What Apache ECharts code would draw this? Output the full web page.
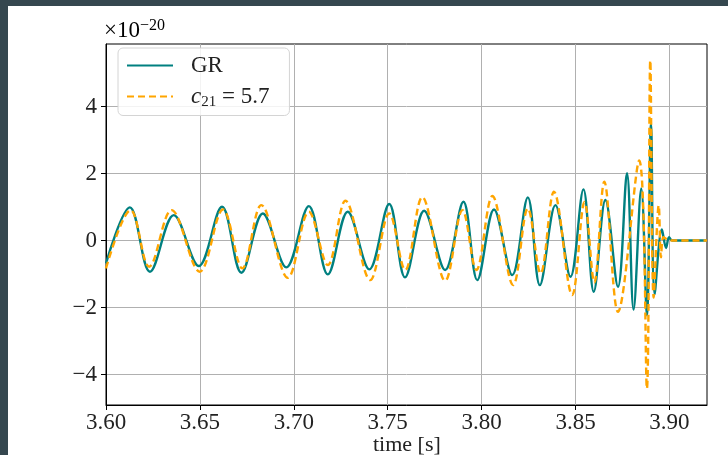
<!DOCTYPE html>
<html>
<head>
<meta charset="utf-8">
<script src="https://cdn.jsdelivr.net/npm/echarts@6/dist/echarts.min.js"></script>
<style>
html, body { margin: 0; padding: 0; width: 728px; height: 455px; overflow: hidden; background: #35474f; }
#main { position: absolute; left: 8px; top: 6px; width: 720px; height: 449px; background: #fff; }
</style>
</head>
<body>
<div id="main"></div>
<script>
// strain in units of 1e-20 at each peak and trough
var grTime = [
  3.6000, 3.6127, 3.6234, 3.6361, 3.6494, 3.6618, 3.6721, 3.6835, 3.6960, 3.7080,
  3.7181, 3.7287, 3.7402, 3.7508, 3.7592, 3.7694, 3.7806, 3.7903, 3.7977, 3.8066,
  3.8163, 3.8246, 3.8310, 3.8393, 3.8473, 3.8542, 3.8597, 3.8659, 3.8726, 3.8774,
  3.8809, 3.8850, 3.8880, 3.8902, 3.8921, 3.8960, 3.8982, 3.8998, 3.9015, 3.9200
];
var grStrain = [
  -0.68, 0.99, -0.93, 0.76, -0.76, 1.01, -0.96, 0.81, -0.80, 1.03,
  -1.01, 0.86, -0.86, 1.09, -1.10, 0.89, -0.88, 1.16, -1.18, 0.93,
  -1.03, 1.29, -1.33, 1.06, -1.08, 1.53, -1.53, 1.21, -1.38, 2.01,
  -2.06, 1.56, -2.23, 3.50, -1.60, 0.33, -0.22, 0.10, 0.00, 0.00
];
var c21Time = [
  3.6000, 3.6131, 3.6230, 3.6349, 3.6499, 3.6623, 3.6726, 3.6827, 3.6968, 3.7080,
  3.7181, 3.7275, 3.7407, 3.7508, 3.7593, 3.7684, 3.7806, 3.7898, 3.7972, 3.8057,
  3.8168, 3.8246, 3.8314, 3.8385, 3.8482, 3.8548, 3.8600, 3.8653, 3.8726, 3.8839,
  3.8880, 3.8898, 3.8916, 3.8943, 3.8955, 3.8968, 3.8990, 3.9020, 3.9200
];
var c21Strain = [
  -0.83, 0.91, -0.78, 0.91, -0.93, 0.93, -0.83, 1.06, -1.11, 0.86,
  -0.73, 1.19, -1.18, 0.81, -0.88, 1.30, -1.20, 0.91, -0.88, 1.33,
  -1.33, 0.96, -0.98, 1.46, -1.63, 1.15, -1.25, 1.76, -2.13, 2.39,
  -4.42, 5.38, -1.70, 1.05, -0.50, 0.10, 0.03, 0.00, 0.00
];
var xTicks = [3.60, 3.65, 3.70, 3.75, 3.80, 3.85, 3.90];
var yTicks = [-4, -2, 0, 2, 4];

function pairs(xs, ys) {
  return xs.map(function (x, i) { return [x, ys[i]]; });
}

var serif = 'Liberation Serif';
var chart = echarts.init(document.getElementById('main'));
chart.setOption({
  animation: false,
  grid: {
    left: 98, top: 38, width: 601, height: 361, outerBoundsMode: 'none',
    show: true, borderColor: '#000', borderWidth: 1, backgroundColor: 'transparent'
  },
  graphic: [{
    type: 'text', left: 96, top: 12,
    style: {
      text: '{a|×10}{b|−20}',
      rich: {
        a: { fontFamily: serif, fontSize: 23, color: '#222', lineHeight: 26 },
        b: { fontFamily: serif, fontSize: 16, color: '#222', lineHeight: 14, verticalAlign: 'top' }
      }
    }
  }, {
    // x-axis title, centred under the plot
    type: 'text', left: 365, top: 428,
    style: { text: 'time [s]', fontFamily: serif, fontSize: 22, fill: '#222' }
  }],
  legend: {
    orient: 'vertical', left: 110, top: 42,
    itemWidth: 46, itemHeight: 14, itemGap: 8,
    padding: [6, 20, 6, 8],
    itemStyle: { color: 'transparent', borderWidth: 0, opacity: 0 },
    backgroundColor: 'rgba(255,255,255,0.85)', borderColor: '#d4d4d4', borderWidth: 1, borderRadius: 5,
    textStyle: {
      fontFamily: serif, fontSize: 23, color: '#222',
      rich: {
        g: { width: 13 },
        n: { fontFamily: serif, fontSize: 23, color: '#222', lineHeight: 26 },
        i: { fontFamily: serif, fontSize: 23, fontStyle: 'italic', color: '#222', lineHeight: 26 },
        s: { fontFamily: serif, fontSize: 15, color: '#222', lineHeight: 14, verticalAlign: 'bottom' }
      }
    },
    formatter: function (name) {
      return name === 'GR' ? '{g|}{n|GR}' : '{g|}{i|c}{s|21}{n| = 5.7}';
    }
  },
  xAxis: {
    type: 'value', min: 3.6, max: 3.92,
    axisLine: { show: true, onZero: false, lineStyle: { color: '#000', width: 1 } },
    axisTick: { show: true, inside: false, length: 5, customValues: xTicks, lineStyle: { color: '#000' } },
    axisLabel: {
      customValues: xTicks, margin: 6,
      fontFamily: serif, fontSize: 23, color: '#222',
      formatter: function (v) { return v.toFixed(2); }
    },
    splitLine: { show: true, lineStyle: { color: '#b0b0b0', width: 1 } }
  },
  yAxis: {
    type: 'value', min: -4.91, max: 5.87,
    axisLine: { show: true, onZero: false, lineStyle: { color: '#000', width: 1 } },
    axisTick: { show: true, inside: false, length: 5, customValues: yTicks, lineStyle: { color: '#000' } },
    axisLabel: {
      customValues: yTicks, margin: 9,
      fontFamily: serif, fontSize: 23, color: '#222',
      formatter: function (v) { return v < 0 ? '−' + Math.abs(v) : String(v); }
    },
    splitLine: { show: true, lineStyle: { color: '#b0b0b0', width: 1 } }
  },
  series: [
    {
      name: 'GR', type: 'line', data: pairs(grTime, grStrain),
      showSymbol: false, symbol: 'none', smooth: 0.36,
      lineStyle: { color: '#008080', width: 2.4 }, itemStyle: { color: '#008080' }, z: 2
    },
    {
      name: 'c21 = 5.7', type: 'line', data: pairs(c21Time, c21Strain),
      showSymbol: false, symbol: 'none', smooth: 0.36,
      lineStyle: { color: '#ffa500', width: 2.4, type: [7, 4] }, itemStyle: { color: '#ffa500' }, z: 3
    }
  ]
});
</script>
</body>
</html>
